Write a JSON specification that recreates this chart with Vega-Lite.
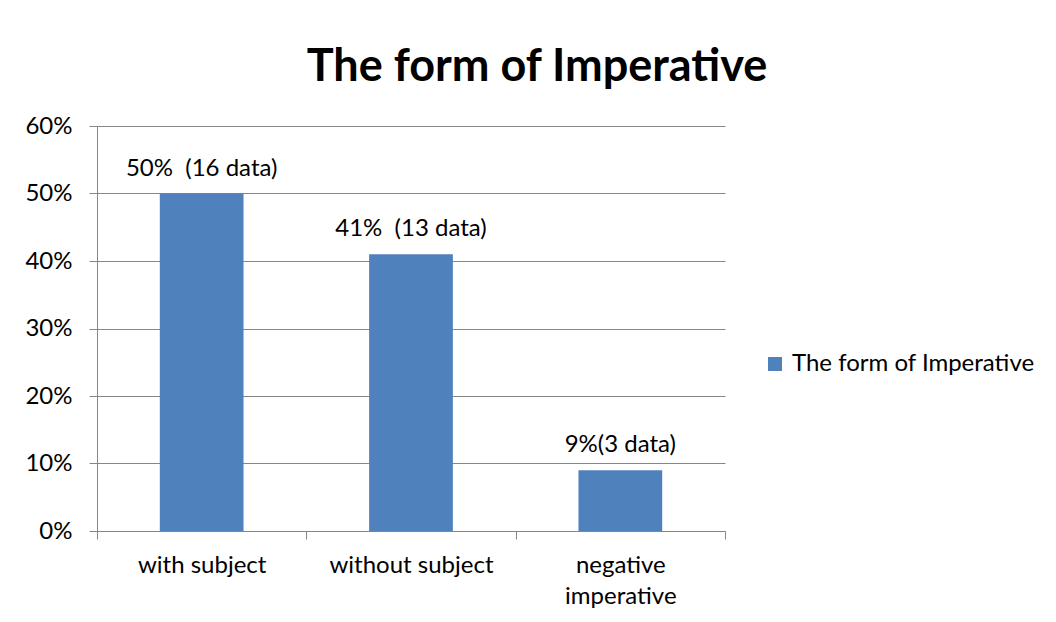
{
  "$schema": "https://vega.github.io/schema/vega-lite/v6.json",
  "width": 628,
  "height": 405,
  "autosize": {"type": "none"},
  "padding": {"left": 97, "top": 126, "right": 331, "bottom": 91},
  "background": "white",
  "config": {"font": "Lato", "view": {"stroke": null}},
  "title": {
    "text": "The form of Imperative",
    "font": "Lato",
    "fontSize": 45,
    "fontWeight": "bold",
    "color": "black",
    "anchor": "middle",
    "frame": "group",
    "baseline": "alphabetic",
    "offset": 46,
    "dx": 126,
    "dy": 58
  },
  "data": {
    "values": [
      {"category": "with subject", "value": 0.50, "label": "50%\u00a0 (16 data)", "series": "The form of Imperative"},
      {"category": "without subject", "value": 0.41, "label": "41%\u00a0 (13 data)", "series": "The form of Imperative"},
      {"category": "negative imperative", "value": 0.09, "label": "9%(3 data)", "series": "The form of Imperative"}
    ]
  },
  "encoding": {
    "x": {
      "field": "category",
      "type": "nominal",
      "sort": null,
      "scale": {"paddingInner": 0, "paddingOuter": 0},
      "axis": {
        "title": null,
        "labelAngle": 0,
        "tickBand": "extent",
        "domainColor": "#868686",
        "tickColor": "#868686",
        "tickSize": 8,
        "labelFontSize": 24,
        "labelColor": "black",
        "labelPadding": 14,
        "labelLineHeight": 31,
        "labelExpr": "datum.value == 'negative imperative' ? ['negative', 'imperative'] : datum.value",
        "grid": false
      }
    },
    "y": {
      "field": "value",
      "type": "quantitative",
      "scale": {"domain": [0, 0.6], "nice": false},
      "axis": {
        "title": null,
        "values": [0, 0.1, 0.2, 0.3, 0.4, 0.5, 0.6],
        "format": ".0%",
        "grid": true,
        "gridColor": "#868686",
        "domainColor": "#868686",
        "tickColor": "#868686",
        "tickSize": 8,
        "labelFontSize": 24,
        "labelColor": "black",
        "labelPadding": 17
      }
    }
  },
  "layer": [
    {
      "mark": {"type": "bar", "width": {"band": 0.4}},
      "encoding": {
        "color": {
          "field": "series",
          "type": "nominal",
          "scale": {"range": ["#4F81BD"]},
          "legend": {
            "title": null,
            "orient": "none",
            "legendX": 666,
            "legendY": 226,
            "padding": 0,
            "symbolType": "square",
            "symbolSize": 196,
            "symbolStrokeWidth": 0,
            "labelFontSize": 24,
            "labelColor": "black",
            "labelOffset": 5,
            "labelLimit": 400
          }
        }
      }
    },
    {
      "mark": {"type": "text", "dy": -18, "baseline": "alphabetic", "fontSize": 24, "color": "black"},
      "encoding": {"text": {"field": "label"}}
    }
  ]
}
